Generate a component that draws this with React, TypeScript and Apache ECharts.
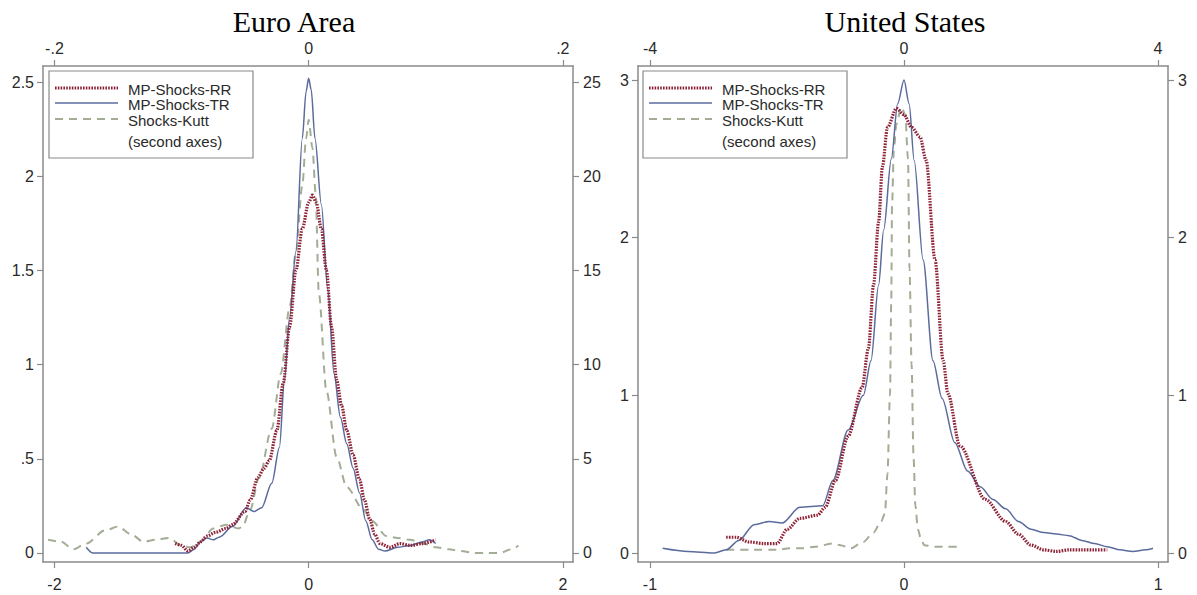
import React, { useEffect, useRef } from "react";
import * as echarts from "echarts";

// ---------- Data (x, y) in each series' own axis units ----------
// Euro Area: MP shocks on bottom axis (-2..2) / left axis (0..2.5)
const euroRR: number[][] = [
  [-1.05, 0.05], [-1.0, 0.04], [-0.95, 0.01], [-0.9, 0.03], [-0.85, 0.06], [-0.8, 0.09],
  [-0.73, 0.11], [-0.65, 0.13], [-0.6, 0.15], [-0.5, 0.22], [-0.46, 0.28], [-0.4, 0.4],
  [-0.35, 0.45], [-0.31, 0.49], [-0.25, 0.65], [-0.2, 0.9], [-0.15, 1.2], [-0.1, 1.5],
  [-0.05, 1.72], [0, 1.86], [0.03, 1.9], [0.06, 1.86], [0.1, 1.72], [0.14, 1.5],
  [0.18, 1.2], [0.22, 0.92], [0.26, 0.78], [0.3, 0.65], [0.35, 0.52], [0.4, 0.39],
  [0.44, 0.28], [0.48, 0.18], [0.52, 0.1], [0.56, 0.05], [0.64, 0.03], [0.72, 0.05],
  [0.8, 0.04], [0.9, 0.05], [1.0, 0.07],
];
const euroTR: number[][] = [
  [-1.75, 0.03], [-1.7, 0.0], [-1.5, 0.0], [-1.3, 0.0], [-1.1, 0.0], [-0.95, 0.0],
  [-0.9, 0.02], [-0.85, 0.06], [-0.8, 0.08], [-0.75, 0.07], [-0.7, 0.085], [-0.6, 0.14],
  [-0.49, 0.24], [-0.43, 0.22], [-0.37, 0.24], [-0.29, 0.37], [-0.23, 0.56], [-0.19, 0.92],
  [-0.15, 1.25], [-0.1, 1.6], [-0.05, 2.2], [-0.02, 2.45], [0, 2.52], [0.02, 2.46],
  [0.05, 2.2], [0.1, 1.85], [0.15, 1.4], [0.2, 0.95], [0.25, 0.72], [0.3, 0.58],
  [0.35, 0.45], [0.4, 0.32], [0.45, 0.17], [0.5, 0.07], [0.55, 0.02], [0.6, 0.01],
  [0.7, 0.03], [0.8, 0.04], [0.9, 0.06], [0.95, 0.07], [1.0, 0.05],
];
// Euro Area: Kutt shocks on top axis (-.2...2) / right axis (0..25)
const euroKutt: number[][] = [
  [-0.205, 0.7], [-0.195, 0.6], [-0.185, 0.2], [-0.175, 0.5], [-0.16, 1.2], [-0.15, 1.4],
  [-0.14, 1.0], [-0.13, 0.6], [-0.12, 0.7], [-0.11, 0.8], [-0.1, 0.4], [-0.093, 0.3],
  [-0.085, 0.6], [-0.075, 1.3], [-0.065, 1.5], [-0.055, 1.3], [-0.052, 1.4], [-0.046, 2.3],
  [-0.039, 4.0], [-0.029, 6.6], [-0.022, 9.5], [-0.015, 13], [-0.01, 16], [-0.005, 19.5],
  [-0.002, 22], [0, 23], [0.003, 21.5], [0.0055, 19.1], [0.008, 13.8], [0.014, 8.6],
  [0.022, 5.1], [0.03, 3.5], [0.043, 2.3], [0.05, 1.7], [0.061, 0.9], [0.07, 0.8],
  [0.08, 0.7], [0.09, 0.5], [0.1, 0.3], [0.11, 0.2], [0.12, 0.1], [0.13, 0.0],
  [0.14, 0.0], [0.15, 0.0], [0.16, 0.2], [0.165, 0.4],
];

// United States: MP shocks on bottom axis (-1..1) / left axis (0..3)
const usRR: number[][] = [
  [-0.7, 0.1], [-0.66, 0.1], [-0.61, 0.07], [-0.55, 0.06], [-0.5, 0.06], [-0.46, 0.15],
  [-0.41, 0.22], [-0.34, 0.24], [-0.31, 0.29], [-0.27, 0.46], [-0.22, 0.74], [-0.165, 1.05],
  [-0.14, 1.3], [-0.12, 1.7], [-0.1, 2.1], [-0.085, 2.45], [-0.065, 2.7], [-0.03, 2.82],
  [0, 2.78], [0.03, 2.7], [0.063, 2.64], [0.087, 2.49], [0.122, 1.86], [0.154, 1.22],
  [0.173, 1.01], [0.22, 0.68], [0.32, 0.34], [0.4, 0.2], [0.45, 0.12], [0.5, 0.05],
  [0.55, 0.02], [0.6, 0.01], [0.65, 0.02], [0.7, 0.02], [0.75, 0.02], [0.8, 0.02],
];
const usTR: number[][] = [
  [-0.95, 0.03], [-0.85, 0.01], [-0.75, 0.0], [-0.7, 0.02], [-0.65, 0.08], [-0.59, 0.18],
  [-0.53, 0.2], [-0.48, 0.19], [-0.41, 0.29], [-0.32, 0.3], [-0.28, 0.46], [-0.22, 0.78],
  [-0.16, 1.0], [-0.13, 1.22], [-0.1, 1.7], [-0.08, 2.05], [-0.05, 2.5], [-0.025, 2.85],
  [0, 3.0], [0.02, 2.85], [0.04, 2.49], [0.075, 1.86], [0.114, 1.22], [0.15, 0.98],
  [0.2, 0.7], [0.25, 0.52], [0.3, 0.42], [0.35, 0.34], [0.4, 0.28], [0.45, 0.2],
  [0.5, 0.15], [0.55, 0.13], [0.6, 0.12], [0.65, 0.11], [0.7, 0.08], [0.75, 0.06],
  [0.8, 0.04], [0.85, 0.02], [0.9, 0.01], [0.95, 0.02], [0.98, 0.03],
];
// United States: Kutt shocks on top axis (-4..4) / right axis (0..3)
const usKutt: number[][] = [
  [-2.8, 0.02], [-2.4, 0.02], [-2.0, 0.02], [-1.8, 0.03], [-1.6, 0.03], [-1.4, 0.04],
  [-1.12, 0.06], [-1.0, 0.05], [-0.84, 0.03], [-0.64, 0.07], [-0.48, 0.13], [-0.36, 0.2],
  [-0.3, 0.25], [-0.26, 0.5], [-0.22, 1.0], [-0.2, 1.6], [-0.188, 2.2], [-0.16, 2.55],
  [-0.12, 2.72], [-0.04, 2.83], [0.02, 2.78], [0.064, 2.5], [0.088, 1.8], [0.12, 1.2],
  [0.152, 0.6], [0.18, 0.3], [0.22, 0.15], [0.26, 0.1], [0.32, 0.05], [0.48, 0.04],
  [0.64, 0.04], [0.88, 0.04],
];

// Tick labels
const euroBottomTicks = [-2, 0, 2];
const euroTopTicks = [-0.2, 0, 0.2];
const euroLeftTicks = [0, 0.5, 1, 1.5, 2, 2.5];
const euroRightTicks = [0, 5, 10, 15, 20, 25];
const usBottomTicks = [-1, 0, 1];
const usTopTicks = [-4, 0, 4];
const usLeftTicks = [0, 1, 2, 3];
const usRightTicks = [0, 1, 2, 3];

const titles = ["Euro Area", "United States"];
const legendNames = ["MP-Shocks-RR", "MP-Shocks-TR", "Shocks-Kutt", "(second axes)"];

// ---------- Styles ----------
const RR_COLOR = "#8e2236";
const TR_COLOR = "#5b6b9c";
const KUTT_COLOR = "#a3ad96";
const AXIS_COLOR = "#8a8a8a";
const LABEL_COLOR = "#2a2a2a";
const SANS = '"Liberation Sans", Arial, sans-serif';

const fmt = (v: number) => {
  const s = String(Math.round(v * 1000) / 1000);
  return s.replace(/^(-?)0\./, "$1.");
};

function axisCommon(ticks: number[], position: string, margin: number) {
  return {
    type: "value",
    position,
    axisLine: { show: true, onZero: false, lineStyle: { color: AXIS_COLOR, width: 1.5 } },
    axisTick: { show: true, length: 6, customValues: ticks, lineStyle: { color: AXIS_COLOR, width: 1.2 } },
    axisLabel: {
      show: true,
      customValues: ticks,
      formatter: fmt,
      color: LABEL_COLOR,
      fontSize: 16,
      fontFamily: SANS,
      margin,
      showMinLabel: true,
      showMaxLabel: true,
    },
    splitLine: { show: false },
  };
}

function legendGraphics(x0: number) {
  const y0 = 71;
  const lx1 = x0 + 6;
  const lx2 = x0 + 69;
  const tx = x0 + 79;
  const rows = [89, 104, 120, 141];
  const font = `15px ${SANS}`;
  return [
    {
      type: "rect",
      z: 100,
      shape: { x: x0, y: y0, width: 204, height: 87 },
      style: { fill: "#fff", stroke: AXIS_COLOR, lineWidth: 1.2 },
    },
    {
      type: "line",
      z: 101,
      shape: { x1: lx1, y1: rows[0] - 1, x2: lx2, y2: rows[0] - 1 },
      style: { stroke: RR_COLOR, lineWidth: 3.2, lineDash: [1.6, 1.2] },
    },
    {
      type: "line",
      z: 101,
      shape: { x1: lx1, y1: rows[1] - 1, x2: lx2, y2: rows[1] - 1 },
      style: { stroke: TR_COLOR, lineWidth: 1.5 },
    },
    {
      type: "line",
      z: 101,
      shape: { x1: lx1, y1: rows[2] - 1, x2: lx2, y2: rows[2] - 1 },
      style: { stroke: KUTT_COLOR, lineWidth: 2, lineDash: [8, 6] },
    },
    ...legendNames.map((t, i) => ({
      type: "text",
      z: 101,
      x: tx,
      y: rows[i],
      style: { text: t, font, fill: LABEL_COLOR, align: "left", verticalAlign: "middle" },
    })),
  ];
}

function lineSeries(data: number[][], xi: number, yi: number, kind: string) {
  const base: any = {
    type: "line",
    data,
    xAxisIndex: xi,
    yAxisIndex: yi,
    showSymbol: false,
    symbol: "none",
    smooth: 0.3,
    smoothMonotone: "x",
    silent: true,
  };
  if (kind === "RR") {
    base.lineStyle = { color: RR_COLOR, width: 3.2, type: [1.6, 1.2] };
    base.z = 4;
  } else if (kind === "TR") {
    base.lineStyle = { color: TR_COLOR, width: 1.5 };
    base.z = 3;
  } else {
    base.lineStyle = { color: KUTT_COLOR, width: 2, type: [8, 6] };
    base.z = 2;
  }
  return base;
}

export default function App() {
  const ref = useRef<HTMLDivElement>(null);

  useEffect(() => {
    if (!ref.current) return;
    const chart = echarts.init(ref.current, undefined, { renderer: "svg" });

    const option: any = {
      animation: false,
      backgroundColor: "#ffffff",
      grid: [
        { left: 43, top: 66, width: 530, height: 496, show: false },
        { left: 638, top: 66, width: 530, height: 496, show: false },
      ],
      xAxis: [
        { ...axisCommon(euroBottomTicks, "bottom", 14), gridIndex: 0, min: -2.09, max: 2.08 },
        { ...axisCommon(euroTopTicks, "top", 10), gridIndex: 0, min: -0.209, max: 0.208 },
        { ...axisCommon(usBottomTicks, "bottom", 14), gridIndex: 1, min: -1.047, max: 1.039 },
        { ...axisCommon(usTopTicks, "top", 10), gridIndex: 1, min: -4.19, max: 4.16 },
      ],
      yAxis: [
        { ...axisCommon(euroLeftTicks, "left", 9), gridIndex: 0, min: -0.048, max: 2.585 },
        { ...axisCommon(euroRightTicks, "right", 10), gridIndex: 0, min: -0.48, max: 25.85 },
        { ...axisCommon(usLeftTicks, "left", 9), gridIndex: 1, min: -0.057, max: 3.089 },
        { ...axisCommon(usRightTicks, "right", 10), gridIndex: 1, min: -0.057, max: 3.089 },
      ],
      series: [
        lineSeries(euroKutt, 1, 1, "Kutt"),
        lineSeries(euroTR, 0, 0, "TR"),
        lineSeries(euroRR, 0, 0, "RR"),
        lineSeries(usKutt, 3, 3, "Kutt"),
        lineSeries(usTR, 2, 2, "TR"),
        lineSeries(usRR, 2, 2, "RR"),
      ],
      graphic: [
        {
          type: "text",
          x: 294,
          y: 21,
          style: {
            text: titles[0],
            font: '30px "Liberation Serif", "Times New Roman", serif',
            fill: "#000",
            align: "center",
            verticalAlign: "middle",
          },
        },
        {
          type: "text",
          x: 905,
          y: 21,
          style: {
            text: titles[1],
            font: '30px "Liberation Serif", "Times New Roman", serif',
            fill: "#000",
            align: "center",
            verticalAlign: "middle",
          },
        },
        ...legendGraphics(49),
        ...legendGraphics(643),
      ],
    };

    chart.setOption(option);
    return () => chart.dispose();
  }, []);

  return (
    <div
      ref={ref}
      style={{ position: "absolute", left: 0, top: 0, width: 1197, height: 595, background: "#fff" }}
    />
  );
}
